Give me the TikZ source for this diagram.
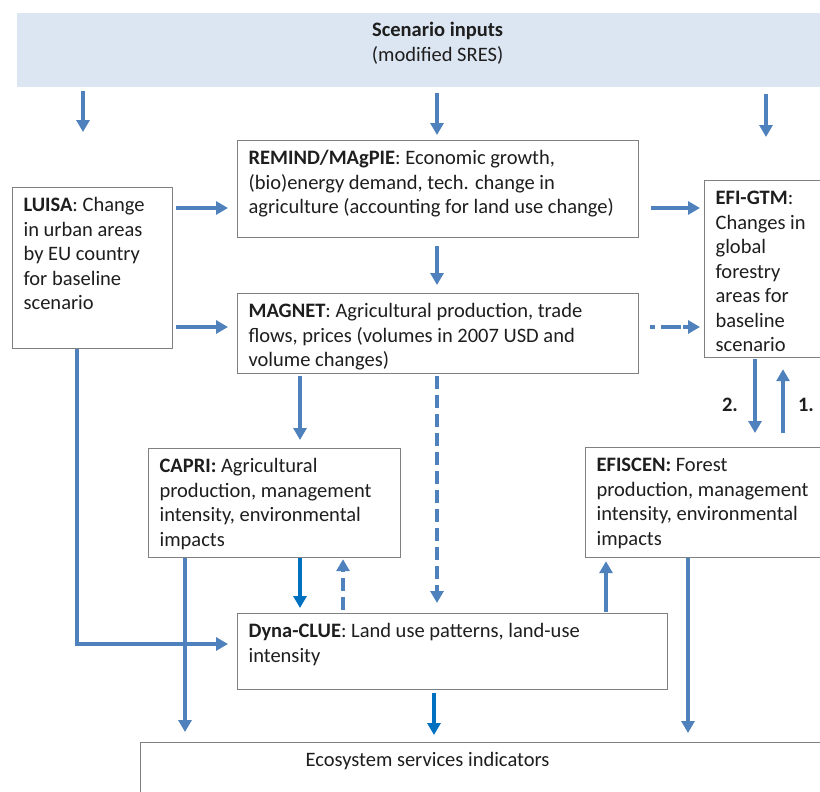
\documentclass[tikz,border=0pt]{standalone}
\usepackage{fontspec}
\setmainfont{Carlito}
\usetikzlibrary{arrows.meta}
\definecolor{arrblue}{RGB}{79,129,189}
\definecolor{arrdark}{RGB}{0,112,192}
\definecolor{bandfill}{RGB}{220,230,242}
\definecolor{boxgray}{RGB}{128,128,128}
\definecolor{txtcol}{RGB}{30,30,30}
\newcommand\tl[1]{\hbox to \hsize{\strut#1\hfil}}
\newcommand\bx[3]{\parbox[c][#2][t]{#1}{#3}}
\begin{document}
\begin{tikzpicture}[x=1pt,y=-1pt,
  mbox/.style={draw=boxgray, line width=1.2pt, fill=white, inner xsep=11pt, inner ysep=7pt,
    anchor=north west, font=\fontsize{20.5}{24.5}\selectfont, text=txtcol},
  arr/.style={draw=arrblue, line width=3.8pt, -{Triangle[length=12pt,width=13pt]}},
  arrd/.style={arr, draw=arrdark},
  dsh/.style={dash pattern=on 13pt off 6pt},
  dshdot/.style={dash pattern=on 5pt off 6pt on 20pt off 2pt},
  lab/.style={font=\fontsize{20.5}{24.5}\selectfont\bfseries, text=txtcol, inner sep=0pt}]
\useasboundingbox (0,0) rectangle (820,792);
\clip (0,0) rectangle (820,792);
\fill[white] (0,0) rectangle (820,792);

% boxes
\node[mbox, draw=none, fill=bandfill] (band) at (16,12)
  {\bx{782pt}{60pt}{\hbox to 782pt{\strut\hskip 38pt plus 1fil\textbf{Scenario inputs}\hfil}%
   \hbox to 782pt{\strut\hskip 38pt plus 1fil(modified SRES)\hfil}}};
\node[mbox] (remind) at (237,140)
  {\bx{379pt}{83pt}{\tl{\textbf{REMIND/MAgPIE}: Economic growth,}\tl{(bio)energy demand, tech. change in}\tl{agriculture (accounting for land use change)}}};
\node[mbox] (luisa) at (12,187)
  {\bx{138pt}{147pt}{\tl{\textbf{LUISA}: Change}\tl{in urban areas}\tl{by EU country}\tl{for baseline}\tl{scenario}}};
\node[mbox] (efigtm) at (704,180)
  {\bx{97pt}{163pt}{\tl{\textbf{EFI-GTM}:}\tl{Changes in}\tl{global}\tl{forestry}\tl{areas for}\tl{baseline}\tl{scenario}}};
\node[mbox] (magnet) at (237,293)
  {\bx{379pt}{66pt}{\tl{\textbf{MAGNET}: Agricultural production, trade}\tl{flows, prices (volumes in 2007 USD and}\tl{volume changes)}}};
\node[mbox] (capri) at (148,448)
  {\bx{230pt}{95pt}{\tl{\textbf{CAPRI:} Agricultural}\tl{production, management}\tl{intensity, environmental}\tl{impacts}}};
\node[mbox] (efiscen) at (585,447)
  {\bx{216pt}{96pt}{\tl{\textbf{EFISCEN:} Forest}\tl{production, management}\tl{intensity, environmental}\tl{impacts}}};
\node[mbox] (dyna) at (237,613)
  {\bx{408pt}{62pt}{\tl{\textbf{Dyna-CLUE}: Land use patterns, land-use}\tl{intensity}}};
\node[mbox] (eco) at (140,742)
  {\bx{661pt}{60pt}{\tl{\hskip 154pt Ecosystem services indicators}}};

\node[lab] (l2) at (730,405) {2.};
\node[lab] (l1) at (806,405) {1.};

% helper coordinates
\coordinate (s1) at (83,132);
\coordinate (s2) at (437,135);
\coordinate (s3) at (766,137);
\coordinate (y208) at (0,208);
\coordinate (y327) at (0,327);
\coordinate (y644) at (0,644);
\coordinate (x77) at (77,0);
\coordinate (x185) at (185,0);
\coordinate (x300) at (300,0);
\coordinate (x343) at (343,0);
\coordinate (x434) at (434,0);
\coordinate (x437) at (437,0);
\coordinate (x606) at (606,0);
\coordinate (x688) at (688,0);
\coordinate (x755) at (755,0);
\coordinate (x783) at (783,0);

% connectors
\draw[arr, shorten <=4pt] (band.south -| s1) -- (s1);
\draw[arr, shorten <=6pt] (band.south -| s2) -- (s2);
\draw[arr, shorten <=7pt] (band.south -| s3) -- (s3);

\draw[arr, shorten <=3pt, shorten >=9pt] (luisa.east |- y208) -- (remind.west |- y208);
\draw[arr, shorten <=12pt, shorten >=4pt] (remind.east |- y208) -- (efigtm.west |- y208);
\draw[arr, shorten <=3pt, shorten >=9pt] (luisa.east |- y327) -- (magnet.west |- y327);
\draw[arr, shorten <=8pt, shorten >=8pt] (remind.south -| x437) -- (magnet.north -| x437);
\draw[arr, dshdot, shorten <=11pt, shorten >=4pt] (magnet.east |- y327) -- (efigtm.west |- y327);

\draw[arr, shorten <=1pt, shorten >=14pt] (efigtm.south -| x755) -- (efiscen.north -| x755);
\draw[arr, shorten <=14pt, shorten >=11pt] (efiscen.north -| x783) -- (efigtm.south -| x783);

\draw[arr, shorten <=2pt, shorten >=8pt] (magnet.south -| x300) -- (capri.north -| x300);
\draw[arr, dsh, shorten <=2pt, shorten >=10pt] (magnet.south -| x437) -- (dyna.north -| x437);

\draw[arrd, shorten >=5pt] (capri.south -| x300) -- (dyna.north -| x300);
\draw[arr, dsh, shorten <=3pt, shorten >=1pt] (dyna.north -| x343) -- (capri.south -| x343);
\draw[arr, shorten <=1pt, shorten >=3pt] (dyna.north -| x606) -- (efiscen.south -| x606);

\draw[arr, shorten >=9pt] (luisa.south -| x77) |- (dyna.west |- y644);

\draw[arr, shorten >=10pt] (capri.south -| x185) -- (eco.north -| x185);
\draw[arrd, shorten <=3pt, shorten >=7pt] (dyna.south -| x434) -- (eco.north -| x434);
\draw[arr, shorten >=9pt] (efiscen.south -| x688) -- (eco.north -| x688);
\end{tikzpicture}
\end{document}
